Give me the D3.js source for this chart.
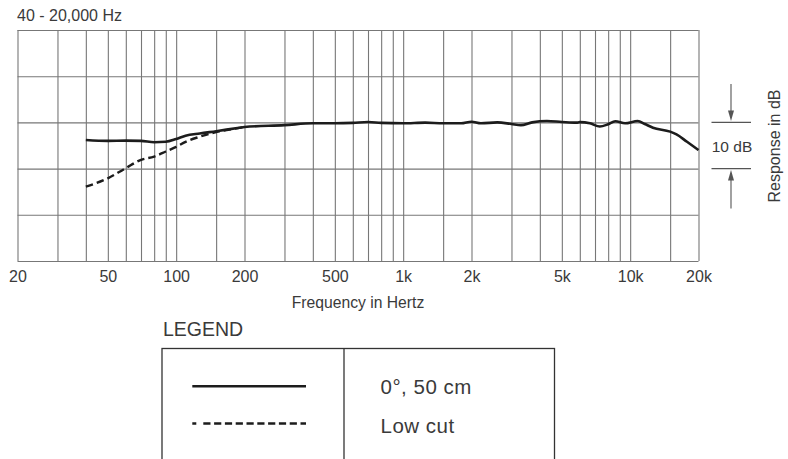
<!DOCTYPE html>
<html>
<head>
<meta charset="utf-8">
<script src="https://cdn.jsdelivr.net/npm/d3@7"></script>
<style>
  html, body { margin: 0; padding: 0; background: #fff; }
  svg { display: block; }
  text { font-family: "Liberation Sans", Arial, Helvetica, sans-serif; fill: #3a3a3a; }
</style>
</head>
<body>
<svg id="chart" width="788" height="459"></svg>
<script>
// ---- data ----
const titleText = "40 - 20,000 Hz";
const gridFreqs = [20,30,40,50,60,70,80,90,100,150,200,300,400,500,600,700,800,900,
                   1000,1500,2000,3000,4000,5000,6000,7000,8000,9000,10000,15000,20000];
const labelFreqs = [20,50,100,200,500,1000,2000,5000,10000,20000];
const labelTexts = ["20","50","100","200","500","1k","2k","5k","10k","20k"];
const dbGrid = [-30,-20,-10,0,10,20];

// 0°, 50 cm response
const mainFreq = [40,50,60,70,80,90,100,110,127,150,190,200,300,400,500,600,700,800,1000,
                  1250,1500,1800,2000,2200,2600,3000,3300,3700,4300,5000,5800,6000,6650,7350,
                  8000,8600,9500,10800,11600,12600,15000,16000,17800,20000];
const mainDb   = [-3.8,-4.0,-3.95,-4.0,-4.3,-4.2,-3.6,-2.9,-2.4,-1.9,-1.15,-1.0,-0.6,-0.2,-0.2,-0.1,0.1,-0.1,-0.2,
                  -0.05,-0.2,-0.2,0.15,-0.2,0.0,-0.35,-0.6,0.0,0.3,0.1,-0.05,0.05,-0.2,-0.9,
                  -0.4,0.25,-0.2,0.3,-0.35,-1.15,-2.0,-2.6,-4.2,-6.0];
// Low cut response
const lowCutFreq = [40,50,60,70,80,90,100,110,127,150,175,200];
const lowCutDb   = [-13.9,-12.1,-9.9,-8.1,-7.4,-6.3,-5.3,-4.2,-3.1,-2.1,-1.5,-1.0];

const legendLabels = ["0°, 50 cm", "Low cut"];
const xAxisTitle = "Frequency in Hertz";
const yAxisTitle = "Response in dB";
const scaleLabel = "10 dB";

// ---- layout ----
const svg = d3.select("#chart");
const plot = { left: 17.5, right: 698.5, top: 30, bottom: 261 };
const gridColor = "#777";
const inkColor = "#1c1c1c";

const x = d3.scaleLog().domain([20, 20000]).range([plot.left, plot.right]);
const y = d3.scaleLinear().domain([-30, 20]).range([plot.bottom, plot.top]);

// title
svg.append("text").attr("x", 17).attr("y", 21.3)
  .style("font-size", "16px").text(titleText);

// grid via axes
const gx = svg.append("g").attr("transform", `translate(0,${plot.bottom})`)
  .call(d3.axisBottom(x).tickValues(gridFreqs).tickSize(-(plot.bottom - plot.top)).tickFormat(""));
gx.select(".domain").remove();
gx.selectAll(".tick line").attr("stroke", gridColor).attr("stroke-width", 1.1);

const gy = svg.append("g").attr("transform", `translate(${plot.left},0)`)
  .call(d3.axisLeft(y).tickValues(dbGrid).tickSize(-(plot.right - plot.left)).tickFormat(""));
gy.select(".domain").remove();
gy.selectAll(".tick line").attr("stroke", gridColor).attr("stroke-width", 1.1);

// x labels
const lab = svg.append("g").attr("transform", `translate(0,${plot.bottom})`)
  .call(d3.axisBottom(x).tickValues(labelFreqs).tickSize(0).tickPadding(0)
    .tickFormat(d => labelTexts[labelFreqs.indexOf(d)]));
lab.select(".domain").remove();
lab.selectAll(".tick text")
  .attr("dy", null).attr("y", 20.7)
  .style("font-size", "16px")
  .style("font-family", '"Liberation Sans", Arial, sans-serif')
  .attr("fill", "#3a3a3a");

svg.append("text").attr("x", (plot.left + plot.right) / 2).attr("y", 308.3)
  .attr("text-anchor", "middle").style("font-size", "15.7px").text(xAxisTitle);

// curves
const line = d3.line().x(d => x(d[0])).y(d => y(d[1])).curve(d3.curveMonotoneX);
svg.append("path")
  .datum(lowCutFreq.map((f, i) => [f, lowCutDb[i]]))
  .attr("d", line).attr("fill", "none").attr("stroke", inkColor)
  .attr("stroke-width", 2.4).attr("stroke-dasharray", "7.5 4");
svg.append("path")
  .datum(mainFreq.map((f, i) => [f, mainDb[i]]))
  .attr("d", line).attr("fill", "none").attr("stroke", inkColor)
  .attr("stroke-width", 2.6).attr("stroke-linejoin", "round");

// 10 dB scale marker on the right
const ax = 731, axL = 711.5, axR = 751;
const yTop = y(0), yBot = y(-10);
const ann = svg.append("g").attr("stroke", "#555").attr("stroke-width", 1.1);
ann.append("line").attr("x1", axL).attr("x2", axR).attr("y1", yTop).attr("y2", yTop);
ann.append("line").attr("x1", axL).attr("x2", axR).attr("y1", yBot).attr("y2", yBot);
ann.append("line").attr("x1", ax).attr("x2", ax).attr("y1", 84).attr("y2", yTop - 10);
ann.append("line").attr("x1", ax).attr("x2", ax).attr("y1", yBot + 10).attr("y2", 208.5);
svg.append("path").attr("fill", "#555")
  .attr("d", `M${ax - 3},${yTop - 12} L${ax + 3},${yTop - 12} L${ax},${yTop - 1.5} Z`);
svg.append("path").attr("fill", "#555")
  .attr("d", `M${ax - 3},${yBot + 12} L${ax + 3},${yBot + 12} L${ax},${yBot + 1.5} Z`);
svg.append("text").attr("x", 732).attr("y", 151.7).attr("text-anchor", "middle")
  .style("font-size", "15.5px").text(scaleLabel);
svg.append("text").attr("transform", "translate(780,146) rotate(-90)")
  .attr("text-anchor", "middle").style("font-size", "16px").text(yAxisTitle);

// legend
svg.append("text").attr("x", 163).attr("y", 335.7)
  .style("font-size", "19.5px").text("LEGEND");
const lg = svg.append("g");
lg.append("rect").attr("x", 162).attr("y", 348.5).attr("width", 392.5).attr("height", 140)
  .attr("fill", "none").attr("stroke", "#333").attr("stroke-width", 1.3);
lg.append("line").attr("x1", 344).attr("x2", 344).attr("y1", 348.5).attr("y2", 470)
  .attr("stroke", "#333").attr("stroke-width", 1.3);
const legendY = [386.3, 423.5];
const legendDash = [null, "4 7 7.2 3.6 7.2 3.6 7.2 3.6 7.2 3.6 7.2 3.6 7.2 3.6 7.2 3.6 7.2 3.6 7.2 3.6 7.2 3.6"];
legendLabels.forEach((t, i) => {
  lg.append("line").attr("x1", 192.3).attr("x2", 306).attr("y1", legendY[i]).attr("y2", legendY[i])
    .attr("stroke", inkColor).attr("stroke-width", 2.5)
    .attr("stroke-dasharray", legendDash[i]);
  lg.append("text").attr("x", 380.5).attr("y", [394.3, 432.7][i])
    .style("font-size", "20.5px").style("letter-spacing", "0.5px").text(t);
});
</script>
</body>
</html>
